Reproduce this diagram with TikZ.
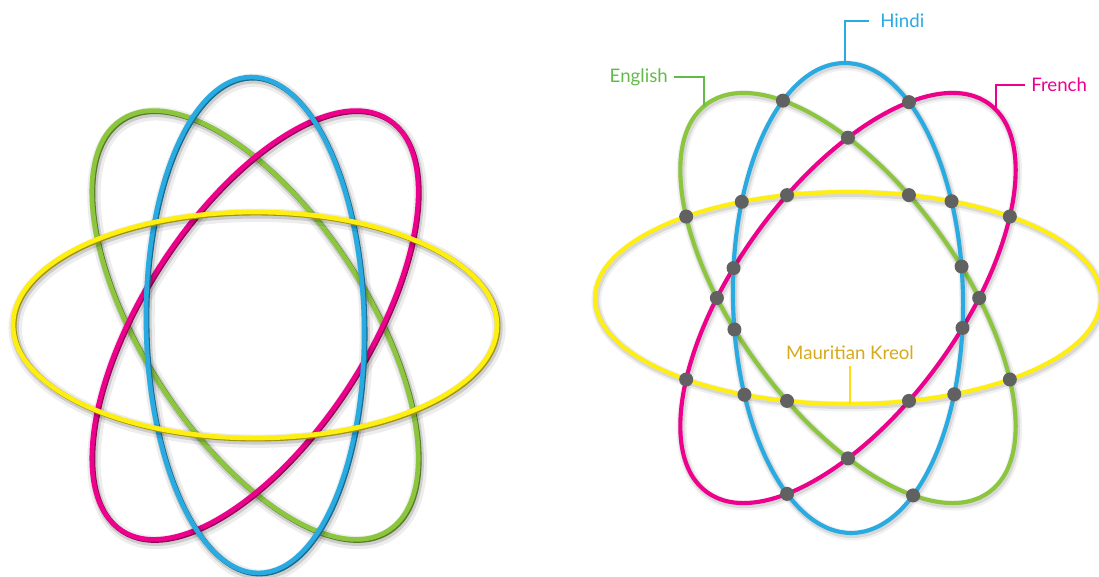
\documentclass[tikz,border=0pt]{standalone}
\usepackage{fontspec}
\setmainfont{Lato}
\usepackage{tikz}
\usetikzlibrary{intersections,calc}
\definecolor{cYel}{HTML}{FFEE12}
\definecolor{cBlu}{HTML}{29ABE2}
\definecolor{cGrn}{HTML}{8CC63F}
\definecolor{cPnk}{HTML}{EC008C}
\definecolor{cDot}{HTML}{616161}
\definecolor{cKre}{HTML}{D6AA1C}
\definecolor{cEng}{HTML}{62BB47}
\tikzset{
  orbit/.style ={draw=#1,line width=3.5pt,
                 preaction={draw=black,opacity=0.07,line width=10pt,
                            transform canvas={shift={(1.6pt,-2.4pt)}}},
                 preaction={draw=black,opacity=0.14,line width=6pt,
                            transform canvas={shift={(1.3pt,-1.9pt)}}},
                 preaction={draw=#1!62!black,line width=3.6pt,
                            transform canvas={shift={(0.8pt,-0.8pt)}}}},
  ring/.style  ={draw=#1,line width=3.1pt,
                 preaction={draw=black,opacity=0.06,line width=7.5pt,
                            transform canvas={shift={(1pt,-1.8pt)}}},
                 preaction={draw=black,opacity=0.10,line width=4.8pt,
                            transform canvas={shift={(0.8pt,-1.4pt)}}}},
  dot/.style   ={fill=cDot},
  lead/.style  ={draw=#1,line width=1.1pt},
  lbl/.style   ={font=\fontsize{14}{16}\selectfont,inner sep=0pt,text=#1},
}

\begin{document}
\begin{tikzpicture}[x=0.75pt,y=-0.75pt]
\useasboundingbox (0,0) rectangle (1099,577);

% --- left atom, plain rings ------------------------------------------------
\coordinate (cL) at (255,325);
\draw[orbit=cGrn,rotate around={-57:(cL)}] (cL) ellipse [x radius=245,y radius=112];
\draw[orbit=cPnk,rotate around={57:(cL)}]  (cL) ellipse [x radius=245,y radius=112];
\draw[orbit=cBlu,rotate around={1:(cL)}]   (cL) ellipse [x radius=109,y radius=248];
\draw[orbit=cYel] (cL) ellipse [x radius=242,y radius=113];

% --- right atom, one ring per language --------------------------------------
\coordinate (cR) at (848,298);
\draw[ring=cGrn,name path=gR,rotate around={-54:(cR)}] (cR) ellipse [x radius=240,y radius=112];
\draw[ring=cPnk,name path=pR,rotate around={54:(cR)}]  (cR) ellipse [x radius=240,y radius=112];
\draw[ring=cBlu,name path=bR,rotate around={1:(cR)}]   (cR) ellipse [x radius=115,y radius=235];
\draw[ring=cYel,name path=yR] (cR) ellipse [x radius=253,y radius=106];

% dots on every crossing
\foreach \p/\q in {yR/bR,yR/gR,yR/pR,bR/gR,bR/pR,gR/pR}
  \fill[dot,name intersections={of={\p} and {\q},total=\n}]
    \foreach \k in {1,...,\n} {(intersection-\k) circle (7)};

% --- labels -------------------------------------------------------------------
\node[lbl=cBlu,anchor=west] (hi) at (880,21) {Hindi};
\node[lbl=cEng,anchor=east] (en) at (668,77) {English};
\node[lbl=cPnk,anchor=west] (fr) at (1031,85) {French};
\node[lbl=cKre]             (kr) at (850,353) {Mauritian Kreol};

\coordinate (hiFoot) at (845,63);
\coordinate (krFoot) at (851,404);
\path[name path=enStem] (704,70) -- (704,160);
\path[name path=frStem] (996,70) -- (996,160);
\path[name intersections={of=gR and enStem,by=enFoot}];
\path[name intersections={of=pR and frStem,by=frFoot}];

\draw[lead=cBlu] ([xshift=-8pt]hi.west) -| (hiFoot);
\draw[lead=cEng] ([xshift=4.5pt]en.east) -| (enFoot);
\draw[lead=cPnk] ([xshift=-4.5pt]fr.west) -| (frFoot);
\draw[lead=cYel!85!orange,line width=0.9pt] ([yshift=-4pt]kr.south) -- (kr.south |- krFoot);

\end{tikzpicture}
\end{document}
